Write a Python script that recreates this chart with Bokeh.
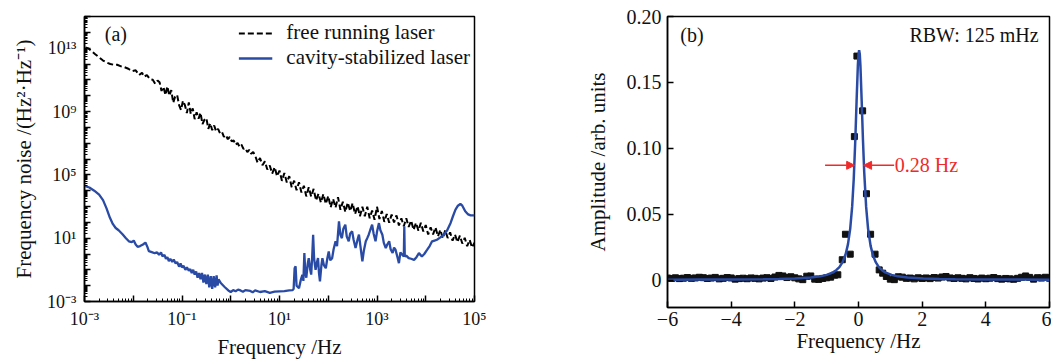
import numpy as np
from bokeh.plotting import figure
from bokeh.layouts import row
from bokeh.models import (FixedTicker, CustomJSTickFormatter, Legend, LegendItem,
                          Label, Arrow, NormalHead, Range1d)
from bokeh.embed import file_html
from bokeh.resources import INLINE

FONT = "Liberation Serif"
BLUE = "#2a4ba5"
RED = "#f02a2a"

# ---------------- panel (a): frequency noise (log10 values) ----------------
free_logf = [
    -2.98, -2.92, -2.85, -2.78, -2.7, -2.62, -2.55, -2.47, -2.4, -2.33,
    -2.25, -2.18, -2.1, -2.02, -1.95, -1.88, -1.82, -1.78, -1.72, -1.66,
    -1.6, -1.55, -1.5,
    -1.46, -1.42, -1.38, -1.34, -1.30, -1.26, -1.22, -1.18, -1.14, -1.10,
    -1.06, -1.02, -0.98, -0.94, -0.90, -0.86, -0.82, -0.78, -0.74, -0.70,
    -0.66, -0.62, -0.58, -0.54, -0.50, -0.46, -0.42, -0.38, -0.34, -0.30,
    -0.26, -0.22, -0.18, -0.14, -0.10, -0.06, -0.02, 0.02, 0.06, 0.10,
    0.14, 0.18, 0.22, 0.26, 0.30, 0.34, 0.38, 0.42, 0.46,
    0.50, 0.55, 0.60, 0.65, 0.70, 0.75, 0.80, 0.85, 0.90, 0.95,
    1.00, 1.05, 1.10, 1.15, 1.20, 1.25, 1.30, 1.35, 1.40, 1.45,
    1.50, 1.55, 1.60, 1.65, 1.70, 1.75, 1.80, 1.85, 1.90, 1.95,
    2.00, 2.05, 2.10, 2.15, 2.20, 2.25, 2.30, 2.35, 2.40, 2.45,
    2.50, 2.55, 2.60, 2.65, 2.70, 2.75, 2.80, 2.85, 2.90, 2.95,
    3.00, 3.05, 3.10, 3.15, 3.20, 3.25, 3.30, 3.35, 3.40, 3.45,
    3.50, 3.55, 3.60, 3.65, 3.70, 3.75, 3.80, 3.85, 3.90, 3.95,
    4.00, 4.05, 4.10, 4.15, 4.20, 4.25, 4.30, 4.35, 4.40, 4.45,
    4.50, 4.55, 4.60, 4.65, 4.70, 4.75, 4.80, 4.85, 4.90, 4.95,
    5.00,
]
free_logS = [
    13.05, 12.98, 12.8, 12.62, 12.42, 12.22, 12.1, 12.0, 11.95, 11.95,
    11.85, 11.8, 11.7, 11.55, 11.6, 11.3, 11.45, 11.2, 11.3, 11.05,
    11.0, 10.75, 10.95,
    10.85, 10.30, 10.55, 10.04, 10.59, 10.00, 10.35, 9.55, 9.95, 10.05,
    9.40, 9.10, 9.68, 9.40, 8.90, 9.58, 8.85, 9.20, 8.52, 8.95,
    8.55, 8.92, 8.20, 8.48, 8.58, 7.90, 8.25, 7.82, 8.12, 7.74,
    7.90, 7.62, 7.71, 7.40, 7.51, 7.25, 7.39, 7.11, 7.17, 6.90,
    7.01, 6.78, 6.91, 6.64, 6.69, 6.43, 6.58, 6.33, 6.44,
    6.23, 5.77, 6.06, 5.61, 5.85, 5.34, 5.59, 5.08, 5.48, 4.92,
    5.27, 4.62, 5.12, 4.52, 4.92, 4.22, 4.63, 4.03, 4.53, 3.89,
    4.31, 3.64, 4.21, 3.63, 4.11, 3.38, 3.81, 3.25, 3.79, 3.17,
    3.66, 2.95, 3.48, 2.93, 3.59, 2.79, 3.30, 2.65, 3.25, 2.71,
    3.21, 2.52, 3.02, 2.38, 2.98, 2.39, 2.99, 2.26, 2.74, 2.16,
    2.99, 2.21, 2.72, 2.03, 2.53, 1.98, 2.49, 1.99, 2.44, 1.80,
    2.25, 1.75, 2.26, 1.71, 2.11, 1.52, 1.97, 1.47, 1.97, 1.43,
    1.83, 1.23, 1.69, 1.24, 1.68, 1.11, 1.53, 0.99, 1.50, 1.01,
    1.37, 0.84, 1.23, 0.75, 1.16, 0.66, 1.02, 0.49, 0.89, 0.41,
    0.72,
]

cav_logf = [
    -3.0, -2.9, -2.8, -2.7, -2.62, -2.55, -2.48, -2.42, -2.36, -2.3,
    -2.22, -2.15, -2.09, -2.03, -1.99, -1.95, -1.91, -1.86, -1.8, -1.75,
    -1.71, -1.68, -1.62, -1.56, -1.51, -1.47, -1.43, -1.4, -1.36, -1.33,
    -1.3, -1.27, -1.24, -1.2, -1.17, -1.13, -1.1, -1.06, -1.03, -1.0,
    -0.97, -0.93, -0.9, -0.86, -0.83, -0.8, -0.77, -0.74, -0.71, -0.68,
    -0.65, -0.62, -0.59, -0.56, -0.53, -0.5, -0.47, -0.44, -0.41, -0.38,
    -0.35, -0.32, -0.29, -0.27, -0.25, -0.2, -0.12, -0.05, 0.0, 0.05,
    0.1, 0.15, 0.2, 0.25, 0.3, 0.4, 0.45, 0.5, 0.6, 0.7,
    0.8, 0.9, 1.0, 1.1, 1.2, 1.27, 1.29, 1.31, 1.33, 1.35,
    1.4, 1.44, 1.47, 1.49, 1.51, 1.53, 1.55, 1.58, 1.6, 1.63,
    1.65, 1.67, 1.69, 1.71, 1.74, 1.77, 1.79, 1.81, 1.83, 1.86,
    1.88, 1.91, 1.95, 1.98, 2.01, 2.04, 2.08, 2.11, 2.15, 2.18,
    2.22, 2.25, 2.28, 2.31, 2.35, 2.38, 2.42, 2.45, 2.49, 2.52,
    2.56, 2.6, 2.63, 2.66, 2.7, 2.73, 2.77, 2.8, 2.83, 2.86,
    2.9, 2.93, 2.97, 3.0, 3.04, 3.07, 3.11, 3.14, 3.18, 3.21,
    3.25, 3.28, 3.32, 3.35, 3.38, 3.42, 3.45, 3.48, 3.52, 3.55,
    3.56, 3.57, 3.6, 3.65, 3.7, 3.76, 3.81, 3.86, 3.92, 3.97,
    4.03, 4.08, 4.13, 4.18, 4.23, 4.3, 4.37, 4.44, 4.51, 4.56,
    4.61, 4.66, 4.71, 4.75, 4.81, 4.87, 4.92, 5.0,
]
cav_logS = [
    4.3, 4.2, 4.0, 3.75, 3.4, 2.9, 2.3, 1.9, 1.64, 1.5,
    1.25, 1.0, 0.8, 0.75, 0.85, 0.6, 0.45, 0.5, 0.6, 0.72,
    0.45, 0.18, 0.12, 0.05, 0.1, -0.05, 0.1, -0.15, -0.05, -0.3,
    -0.2, -0.45, -0.3, -0.5, -0.35, -0.6, -0.5, -0.8, -0.6, -0.85,
    -0.75, -1.0, -0.85, -1.05, -0.95, -1.2, -1.0, -1.3, -1.1, -1.5,
    -1.2, -1.6, -1.2, -1.8, -1.3, -1.9, -1.3, -2.1, -1.4, -2.2,
    -1.4, -2.1, -1.35, -2.0, -1.6, -1.85, -2.1, -2.3, -2.4, -2.28,
    -2.35, -2.25, -2.3, -2.38, -2.28, -2.33, -2.42, -2.3, -2.4, -2.35,
    -2.45, -2.38, -2.36, -2.34, -2.3, -2.28, -2.2, -0.9, -0.78, -2.0,
    -2.16, -1.6, -1.31, -1.7, 0.06, -1.2, -1.5, -0.6, -0.26, -1.0,
    -1.3, -0.2, 1.22, -0.3, -1.0, -0.5, -0.26, -1.2, -1.73, -0.7,
    -0.26, -0.7, -0.9, -0.3, 0.16, -0.4, -0.26, 0.3, 0.8, 0.5,
    2.06, 1.2, 1.0, 1.6, 1.85, 1.1, 0.8, 1.3, 1.43, 0.9,
    0.38, 0.9, 1.22, 0.5, -0.47, 0.2, 0.8, 1.0, 1.22, 1.5,
    1.85, 1.3, 0.8, 1.4, 1.95, 1.5, 1.22, 0.7, 0.38, 0.6,
    0.8, 0.3, 0.06, 0.4, 0.27, -0.2, -0.58, 0.1, -0.05, -0.16,
    1.75, -0.16, -0.1, -0.26, -0.3, -0.37, -0.2, 0.06, -0.16, 0.0,
    0.27, 0.5, 0.8, 0.85, 0.9, 1.05, 1.22, 1.5, 1.96, 2.4,
    2.8, 3.05, 3.16, 3.05, 2.7, 2.5, 2.44, 2.44,
]

legend_labels = ["free running laser", "cavity-stabilized laser"]

# ---------------- panel (b): beat note spectrum ----------------
sq_x = [
    -6.0, -5.875, -5.75, -5.625, -5.5, -5.375, -5.25, -5.125, -5.0, -4.875,
    -4.75, -4.625, -4.5, -4.375, -4.25, -4.125, -4.0, -3.875, -3.75, -3.625,
    -3.5, -3.375, -3.25, -3.125, -3.0, -2.875, -2.75, -2.625, -2.5, -2.375,
    -2.25, -2.125, -2.0, -1.875, -1.75, -1.625, -1.5, -1.375, -1.25, -1.125,
    -1.0, -0.875, -0.75,
    -0.65, -0.51, -0.41, -0.26, -0.13, -0.05, 0.13, 0.25, 0.38, 0.52,
    0.65, 0.76,
    0.875, 1.0, 1.125, 1.25, 1.375, 1.5, 1.625, 1.75, 1.875, 2.0,
    2.125, 2.25, 2.375, 2.5, 2.625, 2.75, 2.875, 3.0, 3.125, 3.25,
    3.375, 3.5, 3.625, 3.75, 3.875, 4.0, 4.125, 4.25, 4.375, 4.5,
    4.625, 4.75, 4.875, 5.0, 5.125, 5.25, 5.375, 5.5, 5.625, 5.75,
    5.875, 6.0,
]
sq_y = [
    0.0018, 0.0015, 0.0020, 0.0014, 0.0017, 0.0022, 0.0016, 0.0019, 0.0024, 0.0021,
    0.0015, 0.0018, 0.0023, 0.0012, 0.0016, 0.0022, 0.0019, 0.0010, 0.0014, 0.0017,
    0.0013, 0.0019, 0.0016, 0.0012, 0.0018, 0.0021, 0.0015, 0.0026, 0.0038, 0.0034,
    0.0022, 0.0028, 0.0020, 0.0012, 0.0006, 0.0032, 0.0034, 0.0010, 0.0008, 0.0015,
    0.0020, 0.0025, 0.0040,
    0.0043, 0.0157, 0.0350, 0.0199, 0.1090, 0.1700, 0.1285, 0.0657, 0.0350, 0.0199,
    0.0080, 0.0055,
    0.0030, 0.0010, 0.0006, 0.0028, 0.0025, 0.0016, 0.0018, 0.0012, 0.0020, 0.0015,
    0.0019, 0.0014, 0.0022, 0.0018, 0.0026, 0.0030, 0.0019, 0.0015, 0.0020, 0.0016,
    0.0012, 0.0021, 0.0015, 0.0011, 0.0018, 0.0013, 0.0017, 0.0022, 0.0014, 0.0010,
    0.0015, 0.0012, 0.0009, 0.0016, 0.0024, 0.0034, 0.0023, 0.0010, 0.0021, 0.0018,
    0.0024, 0.0017,
]
fit_x = [-6, -5, -4, -3, -2.5, -2, -1.5, -1.2, -1.0, -0.8,
         -0.7, -0.6, -0.5, -0.4, -0.33, -0.26, -0.2, -0.15, -0.1, -0.06,
         -0.02, 0.0, 0.02, 0.04, 0.06, 0.1, 0.14, 0.18, 0.24, 0.3,
         0.38, 0.46, 0.54, 0.64, 0.74, 0.84, 1.04, 1.24, 1.54, 2.04,
         2.54, 3.04, 4.04, 5.04, 6.0]
fit_y = [0.0006, 0.0007, 0.0007, 0.0009, 0.0011, 0.0015, 0.0022, 0.0031, 0.0042, 0.0061,
         0.0078, 0.0101, 0.0139, 0.0202, 0.0275, 0.0393, 0.0557, 0.0767, 0.1066, 0.1360,
         0.1630, 0.1715, 0.1745, 0.1715, 0.1630, 0.1360, 0.1066, 0.0819, 0.0557, 0.0393,
         0.0262, 0.0186, 0.0139, 0.0101, 0.0078, 0.0061, 0.0042, 0.0031, 0.0022, 0.0015,
         0.0011, 0.0009, 0.0007, 0.0007, 0.0006]
fit_center = 0.02
fwhm_hz = 0.28
fwhm_label = "0.28 Hz"
rbw_label = "RBW: 125 mHz"
b_yticks = [0.0, 0.05, 0.10, 0.15, 0.20]
b_xticks = [-6, -4, -2, 0, 2, 4, 6]

# ---------------- helpers ----------------
SUP_JS = """
const sup = {"-": "\u207b", "0": "\u2070", "1": "\u00b9", "2": "\u00b2", "3": "\u00b3",
             "4": "\u2074", "5": "\u2075", "6": "\u2076", "7": "\u2077", "8": "\u2078", "9": "\u2079"};
const e = Math.round(Math.log10(tick));
"""


def style_axes(p, tick_size, label_size):
    for ax in (p.xaxis[0], p.yaxis[0]):
        ax.axis_line_color = "black"
        ax.axis_line_width = 1.5
        ax.major_tick_in = 6
        ax.major_tick_out = 0
        ax.minor_tick_in = 3
        ax.minor_tick_out = 0
        ax.major_tick_line_width = 1.5
        ax.minor_tick_line_width = 1
        ax.major_tick_line_color = "black"
        ax.minor_tick_line_color = "black"
        ax.major_label_text_font = FONT
        ax.major_label_text_font_size = tick_size
        ax.major_label_text_color = "#111111"
        ax.axis_label_text_font = FONT
        ax.axis_label_text_font_size = label_size
        ax.axis_label_text_font_style = "normal"
        ax.axis_label_text_color = "#111111"
    p.xgrid.visible = False
    p.ygrid.visible = False
    p.outline_line_color = "black"
    p.outline_line_width = 1.5
    p.outline_line_alpha = 1.0


# ---------------- panel (a) ----------------
pa = figure(frame_width=390, frame_height=285, x_axis_type="log", y_axis_type="log",
            x_range=Range1d(1e-3, 1e5), y_range=Range1d(1e-3, 1e15),
            output_backend="svg", toolbar_location=None,
            min_border_left=84, min_border_right=66, min_border_top=16, min_border_bottom=60,
            x_axis_label="Frequency /Hz",
            y_axis_label="Frequency noise /(Hz\u00b2\u00b7Hz\u207b\u00b9)")
style_axes(pa, "18px", "21px")

pa.xaxis.ticker = FixedTicker(ticks=[10.0 ** k for k in range(-3, 6)],
                              minor_ticks=[m * 10.0 ** k for k in range(-3, 5) for m in range(2, 10)])
pa.yaxis.ticker = FixedTicker(ticks=[10.0 ** k for k in range(-3, 16)],
                              minor_ticks=[m * 10.0 ** k for k in range(-3, 15) for m in range(2, 10)])
pa.xaxis.formatter = CustomJSTickFormatter(code=SUP_JS + """
if (Math.abs(e % 2) != 1) return "";
return "10" + String(e).split("").map(c => sup[c]).join("");
""")
pa.yaxis.formatter = CustomJSTickFormatter(code=SUP_JS + """
if ((((e + 3) % 4) + 4) % 4 != 0) return "";
return "10" + String(e).split("").map(c => sup[c]).join("");
""")
pa.xaxis.major_label_standoff = 7
pa.yaxis.major_label_standoff = 8
pa.xaxis.axis_label_standoff = 3
pa.yaxis.axis_label_standoff = 8

free_f = 10.0 ** np.array(free_logf)
free_S = 10.0 ** np.array(free_logS)
cav_f = 10.0 ** np.array(cav_logf)
cav_S = 10.0 ** np.array(cav_logS)

r_free = pa.line(free_f, free_S, line_color="black", line_width=2, line_dash="6 3")
r_cav = pa.line(cav_f, cav_S, line_color=BLUE, line_width=2.3)

legend = Legend(items=[LegendItem(label=legend_labels[0], renderers=[r_free]),
                       LegendItem(label=legend_labels[1], renderers=[r_cav])],
                location="top_right", border_line_color=None, background_fill_alpha=0,
                label_text_font=FONT, label_text_font_size="21px", label_text_color="#111111",
                glyph_width=34, glyph_height=22, label_height=22, label_standoff=14,
                spacing=0, padding=2, margin=4)
pa.add_layout(legend)

pa.add_layout(Label(x=2.6e-3, y=10 ** 13.9, text="(a)", text_font=FONT, text_font_size="20px",
                    text_baseline="middle", text_color="#111111"))

# ---------------- panel (b) ----------------
pb = figure(frame_width=382, frame_height=291, x_range=Range1d(-6, 6), y_range=Range1d(-0.0205, 0.2),
            output_backend="svg", toolbar_location=None,
            min_border_left=127, min_border_right=2, min_border_top=15, min_border_bottom=55,
            x_axis_label="Frequency /Hz", y_axis_label="Amplitude /arb. units")
style_axes(pb, "20px", "21px")
pb.xaxis.ticker = FixedTicker(ticks=b_xticks)
pb.yaxis.ticker = FixedTicker(ticks=b_yticks)
pb.xaxis.minor_tick_line_color = None
pb.yaxis.minor_tick_line_color = None
pb.xaxis.formatter = CustomJSTickFormatter(code="""
return tick < 0 ? "\u2212" + Math.abs(tick) : String(tick);
""")
pb.yaxis.formatter = CustomJSTickFormatter(code="""
return tick == 0 ? "0" : tick.toFixed(2);
""")
pb.xaxis.major_label_standoff = 4
pb.yaxis.major_label_standoff = 6
pb.xaxis.axis_label_standoff = 0
pb.yaxis.axis_label_standoff = 14

pb.scatter(sq_x, sq_y, marker="square", size=6, fill_color="#111111", line_color="#111111")
pb.line(fit_x, fit_y, line_color=BLUE, line_width=2.5)

half = max(fit_y) / 2.0
left_tip = fit_center - fwhm_hz / 2.0
right_tip = fit_center + fwhm_hz / 2.0
pb.add_layout(Arrow(end=NormalHead(size=8, fill_color=RED, line_color=RED),
                    x_start=-1.05, y_start=half, x_end=left_tip, y_end=half,
                    line_color=RED, line_width=1.5))
pb.add_layout(Arrow(end=NormalHead(size=8, fill_color=RED, line_color=RED),
                    x_start=1.12, y_start=half, x_end=right_tip, y_end=half,
                    line_color=RED, line_width=1.5))
pb.add_layout(Label(x=1.14, y=half, text=fwhm_label, text_font=FONT, text_font_size="20px",
                    text_baseline="middle", text_color=RED))
pb.add_layout(Label(x=-5.6, y=0.186, text="(b)", text_font=FONT, text_font_size="20px",
                    text_baseline="middle", text_color="#111111"))
pb.add_layout(Label(x=5.66, y=0.186, text=rbw_label, text_font=FONT, text_font_size="20px",
                    text_baseline="middle", text_align="right", text_color="#111111"))

layout = row(pa, pb)
open("out.html", "w").write(file_html(layout, INLINE))
